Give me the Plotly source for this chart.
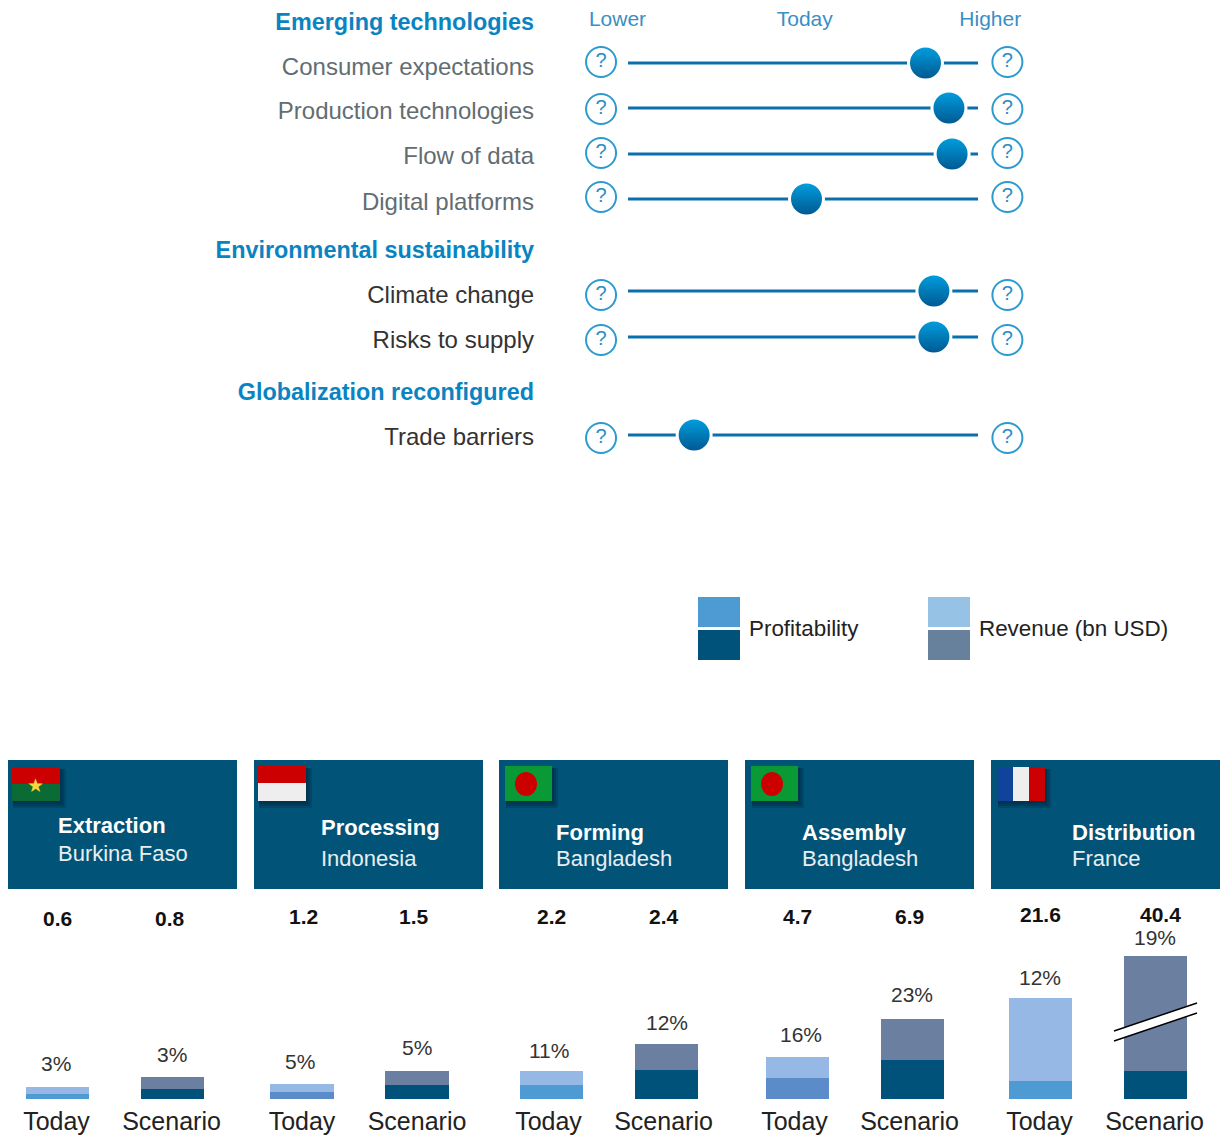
import plotly.graph_objects as go

W, H = 1223, 1138
FONT = "Liberation Sans"

# ---- slider data
slider_labels = ["Consumer expectations", "Production technologies", "Flow of data", "Digital platforms",
                 "Climate change", "Risks to supply", "Trade barriers"]
slider_values = [85, 91.7, 92.6, 51, 87.4, 87.4, 18.9]
slider_line_rows = [63, 108, 154, 199, 291, 337, 435]
slider_icon_rows = [62, 109, 153, 197, 295, 340, 438]
slider_label_rows = [67, 111, 156, 202, 295, 340, 437]
label_colors = ["#626d72", "#626d72", "#626d72", "#626d72", "#333333", "#333333", "#333333"]
group_labels = ["Emerging technologies", "Environmental sustainability", "Globalization reconfigured"]
group_rows = [22, 250, 392]
scale_labels = ["Lower", "Today", "Higher"]
scale_values = [-3, 50.5, 103.5]

# ---- panel data
stages = ["Extraction", "Processing", "Forming", "Assembly", "Distribution"]
countries = ["Burkina Faso", "Indonesia", "Bangladesh", "Bangladesh", "France"]
periods = ["Today", "Scenario"]
revenue_bn = [["0.6", "0.8"], ["1.2", "1.5"], ["2.2", "2.4"], ["4.7", "6.9"], ["21.6", "40.4"]]
profit_pct = [["3%", "3%"], ["5%", "5%"], ["11%", "12%"], ["16%", "23%"], ["12%", "19%"]]
profit_bar = [[5, 10], [7, 14], [14, 29], [21, 39], [18, 28]]
revenue_bar = [[7, 12], [8, 14], [14, 26], [21, 41], [83, 115]]
today_profit_colors = ["#4e9bd4", "#5b8bc9", "#4e9bd4", "#5b8bc9", "#4e9bd4"]

C_REV_TODAY, C_REV_SCEN, C_PROF_SCEN = "#95b9e4", "#6b80a0", "#00527a"
C_HEAD = "#015478"
C_BLUE = "#0a84c1"


def px(x):
    return x / W


def py(y):
    return 1 - y / H


fig = go.Figure()

# ---- sliders
XL, XR = 535, 1030
sx0, sx1 = (XL - 628) / 3.5, (XR - 628) / 3.5
for lab, val, ly in zip(slider_labels, slider_values, slider_line_rows):
    fig.add_trace(go.Scatter(x=[0, 100], y=[ly, ly], mode="lines", line=dict(color="#0b6fae", width=3),
                             hoverinfo="skip", showlegend=False))
    fig.add_trace(go.Scatter(x=[val], y=[ly], mode="markers", name=lab, showlegend=False,
                             marker=dict(size=34, color="#00a0e0", gradient=dict(type="vertical", color="#00568f"),
                                         line=dict(color="white", width=3))))
for side in (-7.7, 108.4):
    fig.add_trace(go.Scatter(x=[side] * len(slider_icon_rows), y=slider_icon_rows, mode="markers+text",
                             text=["?"] * len(slider_icon_rows), textposition="middle center",
                             textfont=dict(family=FONT, size=20, color="#2a8cc4"),
                             marker=dict(size=30, color="white", line=dict(color="#2e9bd0", width=2)),
                             hoverinfo="skip", showlegend=False))

tick_rows = slider_label_rows + group_rows
tick_text = [f'<span style="color:{c}">{l}</span>' for l, c in zip(slider_labels, label_colors)] + \
            [f'<b><span style="color:{C_BLUE};font-size:23.4px">{g}</span></b>' for g in group_labels]

layout = dict(
    width=W, height=H, margin=dict(l=0, r=0, t=0, b=0), paper_bgcolor="white", plot_bgcolor="white",
    showlegend=False, barmode="stack", bargap=0.452,
    font=dict(family=FONT, color="#222222"),
    xaxis=dict(domain=[px(XL), px(XR)], range=[sx0, sx1], side="top", anchor="free", position=py(30), showgrid=False,
               zeroline=False, showline=False, tickmode="array", tickvals=scale_values, ticktext=scale_labels, ticks="",
               tickfont=dict(family=FONT, size=21, color="#3a8fc4")),
    yaxis=dict(domain=[py(470), py(0)], range=[470, 0], anchor="x", showgrid=False, zeroline=False, showline=False,
               tickmode="array", tickvals=tick_rows, ticktext=tick_text, ticks="",
               tickfont=dict(family=FONT, size=24)),
)

# ---- bar panels
BASE, TOP = 1099, 760
panel_left = [0, 244.5, 494, 740, 983]
head_left = [8, 254, 499, 745, 991]
text_left = [58, 321, 556, 802, 1072]
stage_y = [825, 827, 832, 832, 832]
country_y = [853, 858, 858, 858, 858]
rev_y = [918, 916, 916, 916, 914]
rev_dx = [[0, -3], [1, -3], [0, -3], [0, -3], [0, 5]]
pct_y = [[1063, 1054], [1061, 1047], [1050, 1022], [1034, 994], [977, 937]]
pct_dx = [[-2, -1], [-2, 0], [-3, 0], [3, -1], [-1, -1]]
tick_shift = [-1, 0, -3, -3, -1]
annotations = []
shapes = []

for i, stage in enumerate(stages):
    ax = str(i + 2)
    fig.add_trace(go.Bar(x=periods, y=profit_bar[i], xaxis="x" + ax, yaxis="y" + ax, name="Profitability",
                         marker=dict(color=[today_profit_colors[i], C_PROF_SCEN], line=dict(width=0))))
    fig.add_trace(go.Bar(x=periods, y=revenue_bar[i], xaxis="x" + ax, yaxis="y" + ax, name="Revenue (bn USD)",
                         marker=dict(color=[C_REV_TODAY, C_REV_SCEN], line=dict(width=0))))
    layout["xaxis" + ax] = dict(domain=[px(panel_left[i]), px(panel_left[i] + 230)], anchor="y" + ax, type="category",
                                categoryorder="array", categoryarray=periods, range=[-0.5, 1.5], showgrid=False,
                                zeroline=False, showline=False, ticks="outside", ticklen=0,
                                tickcolor="rgba(0,0,0,0)", ticklabelshift=tick_shift[i],
                                tickfont=dict(family=FONT, size=25, color="#222222"))
    layout["yaxis" + ax] = dict(domain=[py(BASE), py(TOP)], anchor="x" + ax, range=[0, BASE - TOP], visible=False)

    for j in range(2):
        annotations.append(dict(xref="x" + ax, yref="paper", x=periods[j], y=py(rev_y[i]), xshift=rev_dx[i][j],
                                text=f"<b>{revenue_bn[i][j]}</b>", showarrow=False, xanchor="center", yanchor="middle",
                                font=dict(family=FONT, size=21, color="#111111")))
        annotations.append(dict(xref="x" + ax, yref="paper", x=periods[j], y=py(pct_y[i][j]), xshift=pct_dx[i][j],
                                text=profit_pct[i][j], showarrow=False, xanchor="center", yanchor="middle",
                                font=dict(family=FONT, size=21, color="#333333")))
    shapes.append(dict(type="rect", xref="paper", yref="paper", layer="below", x0=px(head_left[i]),
                       x1=px(head_left[i] + 229), y0=py(889), y1=py(760), fillcolor=C_HEAD, line_width=0))
    annotations.append(dict(xref="paper", yref="paper", x=px(text_left[i] - 2), y=py(stage_y[i]), text=f"<b>{stage}</b>",
                            showarrow=False, xanchor="left", yanchor="middle",
                            font=dict(family=FONT, size=22, color="white")))
    annotations.append(dict(xref="paper", yref="paper", x=px(text_left[i] - 2), y=py(country_y[i]), text=countries[i],
                            showarrow=False, xanchor="left", yanchor="middle",
                            font=dict(family=FONT, size=22, color="#e8eef2")))


def rect(x0, y0, x1, y1, color, opacity=1.0):
    shapes.append(dict(type="rect", xref="paper", yref="paper", x0=px(x0), x1=px(x1), y0=py(y1), y1=py(y0),
                       fillcolor=color, line_width=0, opacity=opacity))


def shadow(x0, y0, x1, y1):
    for d in (7, 5, 3):
        rect(x0 + 1, y0 + 2, x1 + d - 1, y1 + d, "#001c30", 0.22)


def ellipse(cx, cy, rx, ry, color):
    shapes.append(dict(type="circle", xref="paper", yref="paper", x0=px(cx - rx), x1=px(cx + rx), y0=py(cy + ry),
                       y1=py(cy - ry), fillcolor=color, line_width=0))


# flags
shadow(12, 767, 60, 801)
rect(12, 767, 60, 784, "#cc0000")
rect(12, 784, 60, 801, "#0b6b35")
annotations.append(dict(xref="paper", yref="paper", x=px(35), y=py(785), text="★", showarrow=False,
                        font=dict(family="DejaVu Sans", size=19, color="#f5d63d"), xanchor="center", yanchor="middle"))
shadow(258, 766, 306, 801)
rect(258, 766, 306, 783, "#cc0000")
rect(258, 783, 306, 801, "#eeeeee")
for x0 in (505, 751):
    shadow(x0, 766, x0 + 47, 801)
    rect(x0, 766, x0 + 47, 801, "#0a9a35")
    ellipse(x0 + 21, 784, 11, 12, "#cc0000")
shadow(997, 767, 1045, 801)
rect(997, 767, 1013, 801, "#10449a")
rect(1013, 767, 1029, 801, "#eeeeee")
rect(1029, 767, 1045, 801, "#cc0000")

# legend
rect(698, 597, 740, 627, "#4e9bd4")
rect(698, 630, 740, 660, "#00527a")
rect(928, 597, 970, 627, "#96c2e6")
rect(928, 630, 970, 660, "#67809b")
for x, t in ((747, "Profitability"), (977, "Revenue (bn USD)")):
    annotations.append(dict(xref="paper", yref="paper", x=px(x), y=py(628), text=t, showarrow=False, xanchor="left",
                            yanchor="middle", font=dict(family=FONT, size=22.4, color="#222222")))

# axis break on the last bar
shapes.append(dict(type="path", xref="paper", yref="paper", line_width=0, fillcolor="white",
                   path=f"M {px(1114)} {py(1031)} L {px(1197)} {py(1003)} L {px(1197)} {py(1013)} L {px(1114)} {py(1041)} Z"))
for y0, y1 in ((1031, 1003), (1041, 1013)):
    shapes.append(dict(type="line", xref="paper", yref="paper", x0=px(1114), x1=px(1197), y0=py(y0), y1=py(y1),
                       line=dict(color="black", width=1.5)))

layout["annotations"] = annotations
layout["shapes"] = shapes
fig.update_layout(**layout)
fig.write_html("out.html", config={"displayModeBar": False},
               post_script="document.body.style.margin='0';document.body.style.overflow='hidden';")
